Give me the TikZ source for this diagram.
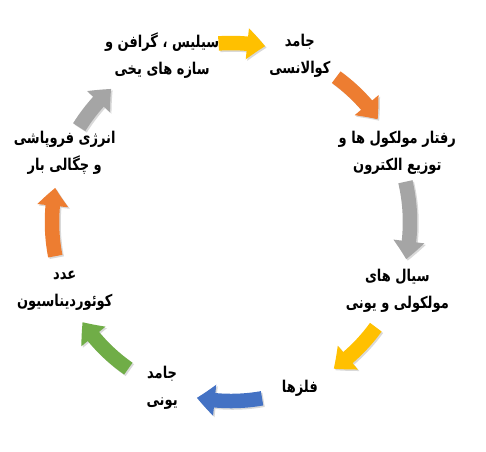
\documentclass[tikz,border=0pt]{standalone}
\usepackage{fontspec}
\usetikzlibrary{arrows.meta,bending}
\newfontfamily\arabicfont[Script=Arabic]{DejaVu Sans}
\TeXXeTstate=1
\newcommand{\fa}[1]{\scalebox{1}[1.25]{\beginR #1\endR}}

\definecolor{cgold}{HTML}{FFC000}
\definecolor{corange}{HTML}{ED7D31}
\definecolor{cgray}{HTML}{A5A5A5}
\definecolor{cblue}{HTML}{4472C4}
\definecolor{cgreen}{HTML}{70AD47}

\begin{document}
\begin{tikzpicture}[x=1pt, y=1pt,
    stage/.style={align=center, font=\arabicfont\bfseries\fontsize{13}{27}\selectfont},
    block/.style={line width=14.5pt, -{Triangle[width=30pt, length=18pt, bend]}}]
    \useasboundingbox (-231,-229) rectangle (255,222);

    % stages round the cycle
    \foreach \a/\txt [count=\i] in {
        112.5/{\fa{سیلیس ، گرافن و}\\\fa{سازه های یخی}},
        67.5/{\fa{جامد}\\\fa{کوالانسی}},
        22.5/{\fa{رفتار مولکول ها و}\\\fa{توزیع الکترون}},
        -22.5/{\fa{سیال های}\\\fa{مولکولی و یونی}},
        -67.5/{\fa{فلزها}},
        -112.5/{\fa{جامد}\\\fa{یونی}},
        -157.5/{\fa{عدد}\\\fa{کوئوردیناسیون}},
        157.5/{\fa{انرژی فروپاشی}\\\fa{و چگالی بار}}}
        \node[stage] (n\i) at (\a:180) {\txt};

    % curved block arrows, clockwise
    \foreach \s/\e/\c [count=\i] in {94/79/cgold, 54/35/corange, 13/-12/cgray, -36/-55/cgold,
        -80/-101/cblue, -125/-146/cgreen, -169/-191/corange, 148/132/cgray}
    {
        \coordinate (tail\i) at (\s:179);
        \draw[block, black!15, transform canvas={shift={(1.5,-1.5)}}] (tail\i) arc[start angle=\s, end angle=\e, radius=179];
        \draw[block, \c] (tail\i) arc[start angle=\s, end angle=\e, radius=179];
    }
\end{tikzpicture}
\end{document}
